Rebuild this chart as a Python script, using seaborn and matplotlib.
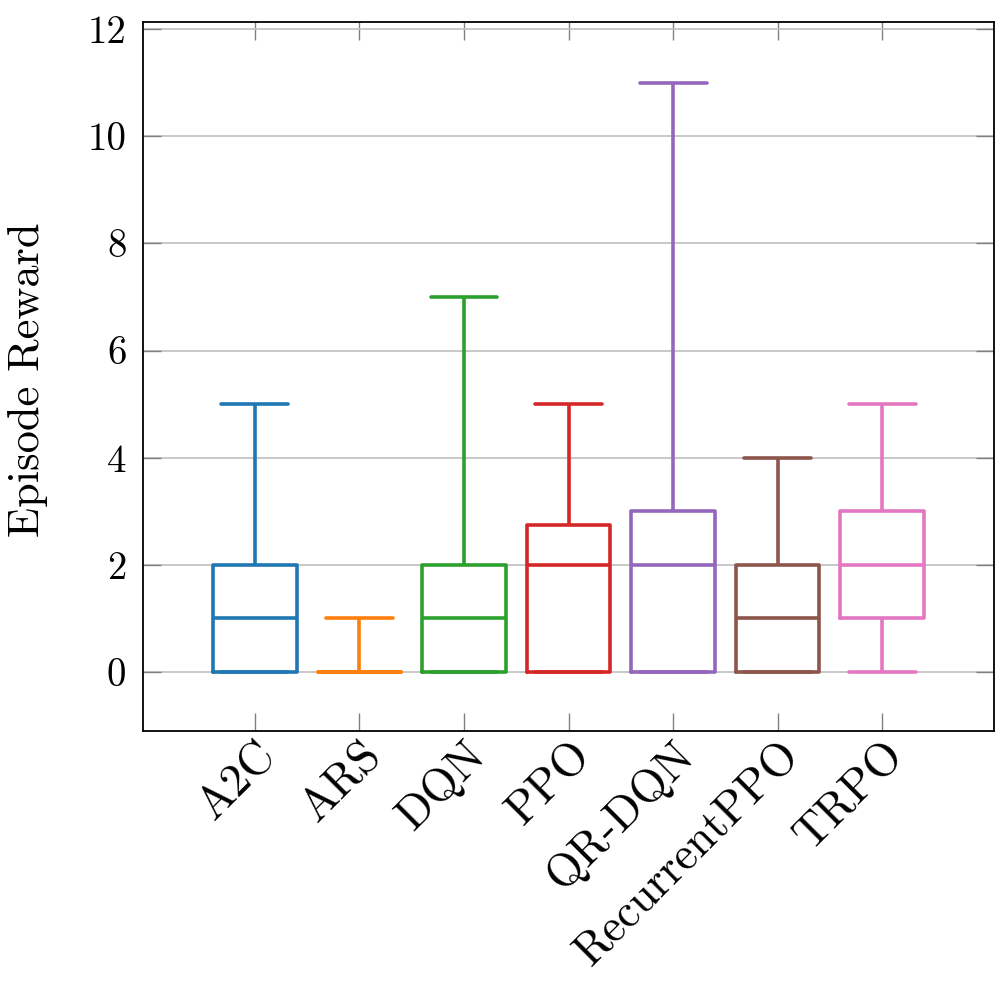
import pandas as pd
import matplotlib
matplotlib.use("Agg")
import matplotlib.pyplot as plt
import seaborn as sns

# episode rewards per algorithm (chosen so quartiles/min/max match the boxes)
algos = ["A2C", "ARS", "DQN", "PPO", "QR-DQN", "RecurrentPPO", "TRPO"]
rewards = {
    "A2C": [0, 0, 1, 2, 5],
    "ARS": [0, 0, 0, 0, 1],
    "DQN": [0, 0, 1, 2, 7],
    "PPO": [0, 0, 2, 2.75, 5],
    "QR-DQN": [0, 0, 2, 3, 11],
    "RecurrentPPO": [0, 0, 1, 2, 4],
    "TRPO": [0, 1, 2, 3, 5],
}
colors = ["#1f77b4", "#ff7f0e", "#2ca02c", "#d62728", "#9467bd", "#8c564b", "#e377c2"]
yticks = [0, 2, 4, 6, 8, 10, 12]

df = pd.DataFrame(
    [(a, r) for a in algos for r in rewards[a]], columns=["algo", "reward"]
)

sns.set_theme(style="white")
plt.rcParams["font.family"] = ["cmr10", "DejaVu Serif"]
plt.rcParams["axes.formatter.use_mathtext"] = True
plt.rcParams["text.color"] = "black"
plt.rcParams["xtick.labelcolor"] = "black"
plt.rcParams["ytick.labelcolor"] = "black"
plt.rcParams["axes.labelcolor"] = "black"

fig = plt.figure(figsize=(9.96, 9.86), dpi=100)
ax = fig.add_axes([143 / 996, 1 - 731 / 986, (994 - 143) / 996, (731 - 22) / 986])

sns.boxplot(data=df, x="algo", y="reward", hue="algo", order=algos,
            hue_order=algos, palette=colors, fill=False, whis=(0, 100),
            width=0.8, linewidth=2.6, capwidths=0.64, legend=False, ax=ax)

ax.set_xlim(-1.07, 7.07)
ax.set_ylim(-1.1, 12.13)
ax.set_yticks(yticks)
ax.set_yticklabels([str(t) for t in yticks], fontsize=28)
ax.set_xticks(range(len(algos)))
ax.set_xticklabels(algos, fontsize=33, rotation=45, ha="right",
                   rotation_mode="anchor")
ax.yaxis.grid(True, color="#bfbfbf", linewidth=1.2)
ax.set_axisbelow(True)
ax.tick_params(axis="both", direction="in", length=13, width=1, color="#808080",
               top=True, right=True, left=True, bottom=True)
ax.tick_params(axis="y", pad=12)
ax.tick_params(axis="x", pad=2)
for s in ax.spines.values():
    s.set_color("black")
    s.set_linewidth(1.3)
ax.set_xlabel("")
ax.set_ylabel("Episode Reward", fontsize=32)
ax.yaxis.set_label_coords(-0.112, 0.496)

fig.savefig("out.png", dpi=100)
